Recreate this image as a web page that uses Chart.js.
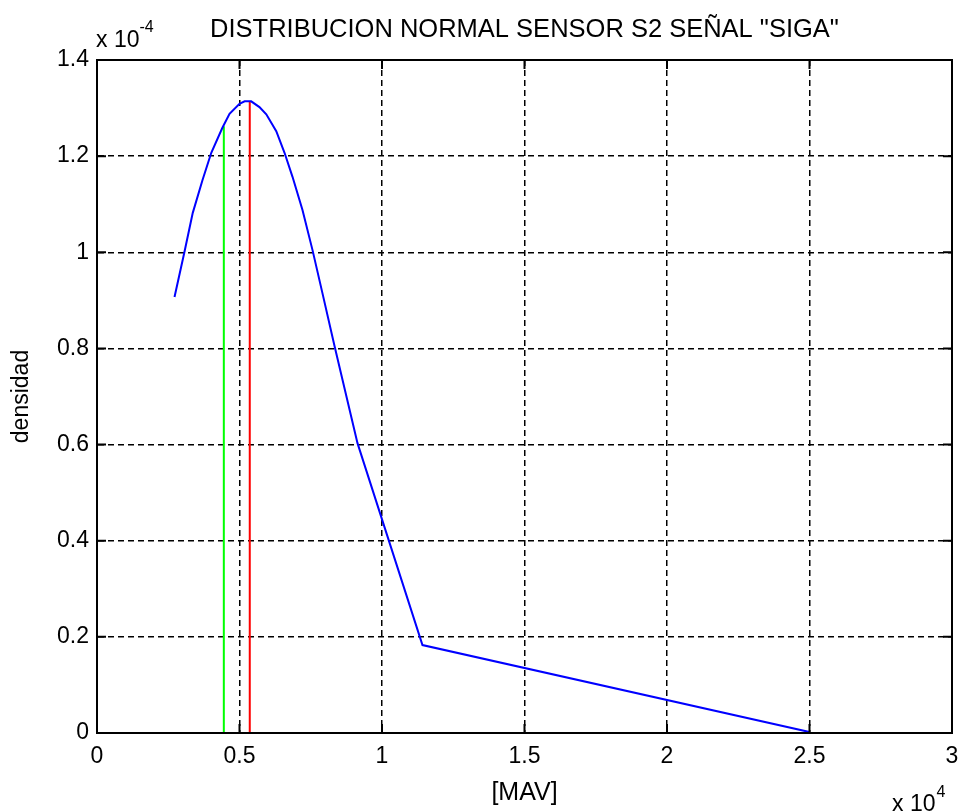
<!DOCTYPE html>
<html>
<head>
<meta charset="utf-8">
<script src="https://cdn.jsdelivr.net/npm/chart.js@4.4.0/dist/chart.umd.min.js"></script>
<style>
  html, body { margin: 0; padding: 0; background: #ffffff; }
  #wrap { width: 963px; height: 812px; }
</style>
</head>
<body>
<div id="wrap"><canvas id="c" width="963" height="812"></canvas></div>
<script>
// ---- data (x in units of 10^4, y in units of 10^-4) ----
const curveX = [0.272, 0.307, 0.336, 0.370, 0.401, 0.440, 0.465, 0.500, 0.518, 0.541, 0.570, 0.594, 0.629, 0.658, 0.686, 0.721, 0.756, 0.791, 0.833, 0.914, 1.142, 2.500];
const curveY = [0.907, 1.001, 1.082, 1.150, 1.207, 1.259, 1.288, 1.309, 1.314, 1.314, 1.302, 1.287, 1.252, 1.207, 1.157, 1.088, 1.005, 0.915, 0.806, 0.603, 0.183, 0.002];
const greenLineX = [0.445, 0.445];
const greenLineY = [0, 1.262];
const redLineX = [0.536, 0.536];
const redLineY = [0, 1.313];
const xTicks = [0, 0.5, 1, 1.5, 2, 2.5, 3];
const yTicks = [0, 0.2, 0.4, 0.6, 0.8, 1, 1.2, 1.4];

const titleText = 'DISTRIBUCION NORMAL SENSOR S2 SEÑAL "SIGA"';
const xLabel = '[MAV]';
const yLabel = 'densidad';

const FONT = '"Liberation Sans", Arial, sans-serif';

function pts(xs, ys) { return xs.map((x, i) => ({ x: x, y: ys[i] })); }
function fmt(v) { return String(Number(v.toFixed(2))); }

const frame = {
  id: 'frame',
  afterDraw(chart) {
    const ctx = chart.ctx;
    const a = chart.chartArea;
    const xs = chart.scales.x, ys = chart.scales.y;
    ctx.save();
    ctx.strokeStyle = '#000';
    ctx.lineWidth = 2;
    ctx.setLineDash([]);
    ctx.strokeRect(a.left, a.top, a.right - a.left, a.bottom - a.top);
    const tl = 9;
    ctx.beginPath();
    xTicks.forEach(v => {
      const px = xs.getPixelForValue(v);
      ctx.moveTo(px, a.top); ctx.lineTo(px, a.top + tl);
      ctx.moveTo(px, a.bottom); ctx.lineTo(px, a.bottom - tl);
    });
    yTicks.forEach(v => {
      const py = ys.getPixelForValue(v);
      ctx.moveTo(a.left, py); ctx.lineTo(a.left + tl, py);
      ctx.moveTo(a.right, py); ctx.lineTo(a.right - tl, py);
    });
    ctx.stroke();
    // exponent labels
    ctx.fillStyle = '#000';
    ctx.textBaseline = 'alphabetic';
    ctx.textAlign = 'left';
    ctx.font = '23px ' + FONT;
    ctx.fillText('x 10', 96, 47);
    let w = ctx.measureText('x 10').width;
    ctx.font = '16px ' + FONT;
    ctx.fillText('-4', 96 + w, 32);
    ctx.font = '23px ' + FONT;
    ctx.fillText('x 10', 892, 811);
    w = ctx.measureText('x 10').width;
    ctx.font = '16px ' + FONT;
    ctx.fillText('4', 892 + w + 1, 797);
    ctx.restore();
  }
};

new Chart(document.getElementById('c'), {
  type: 'scatter',
  data: {
    datasets: [
      { data: pts(curveX, curveY), showLine: true, borderColor: '#0000ff', borderWidth: 2, pointRadius: 0, tension: 0, fill: false },
      { data: pts(greenLineX, greenLineY), showLine: true, borderColor: '#00ff00', borderWidth: 2, pointRadius: 0, fill: false },
      { data: pts(redLineX, redLineY), showLine: true, borderColor: '#ff0000', borderWidth: 2, pointRadius: 0, fill: false }
    ]
  },
  options: {
    responsive: false,
    animation: false,
    layout: { padding: { left: 0, right: 11, top: 0, bottom: 0 } },
    plugins: {
      legend: { display: false },
      tooltip: { enabled: false },
      title: {
        display: true,
        text: titleText,
        fullSize: false,
        color: '#000',
        font: { family: FONT, size: 25.5, weight: 'normal', lineHeight: 1.2 },
        padding: { top: 15, bottom: 14.4 }
      }
    },
    scales: {
      x: {
        type: 'linear',
        min: 0, max: 3,
        afterBuildTicks: s => { s.ticks = xTicks.map(v => ({ value: v })); },
        afterFit: s => { s.height = 79; s.paddingRight = 0; s.paddingLeft = 0; },
        ticks: { color: '#000', font: { family: FONT, size: 23 }, padding: 10, maxRotation: 0, autoSkip: false, callback: v => fmt(v) },
        grid: { color: '#000', lineWidth: 1.5, drawTicks: false },
        border: { display: true, color: '#000', width: 2, dash: [6, 4] },
        title: { display: true, text: xLabel, color: '#000', font: { family: FONT, size: 25, lineHeight: 1.2 }, padding: { top: 0, bottom: 4 } }
      },
      y: {
        type: 'linear',
        min: 0, max: 1.4,
        afterBuildTicks: s => { s.ticks = yTicks.map(v => ({ value: v })); },
        afterFit: s => { s.width = 97; s.paddingTop = 0; s.paddingBottom = 0; },
        ticks: { color: '#000', font: { family: FONT, size: 23 }, padding: 8, autoSkip: false, callback: v => fmt(v) },
        grid: { color: '#000', lineWidth: 1.5, drawTicks: false },
        border: { display: true, color: '#000', width: 2, dash: [6, 4] },
        title: { display: true, text: yLabel, color: '#000', font: { family: FONT, size: 23, lineHeight: 1.2 }, padding: { top: 8, bottom: 0 } }
      }
    }
  },
  plugins: [frame]
});
</script>
</body>
</html>
